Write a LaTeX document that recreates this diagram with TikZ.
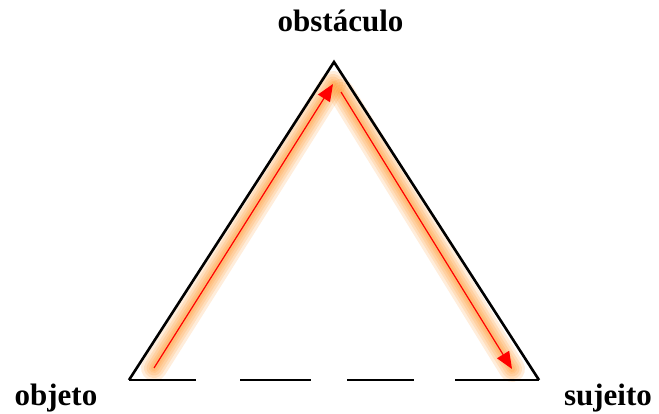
\documentclass[tikz,border=0pt]{standalone}
\usepackage{fontspec}
\setmainfont{Liberation Serif}
\usetikzlibrary{arrows.meta}

\begin{document}
\begin{tikzpicture}[
    x=1pt, y=-1pt,
    side/.style={line width=2.6pt, line join=miter},
    base/.style={line width=2.6pt,
                 dash pattern=on 67pt off 44pt on 71pt off 36pt on 67pt off 41pt on 90pt off 10pt},
    flow/.style={-{Triangle[length=17pt,width=14pt]}, red, line width=1.2pt},
    glow/.style={orange, opacity=0.14, line cap=round},
    corner/.style={font=\fontsize{31}{31}\selectfont\bfseries}
]
\useasboundingbox (0,0) rectangle (659,414);

% --- corners of the triangle ---
\coordinate (apex) at (334,62);
\coordinate (left) at (129,380);
\coordinate (right) at (539,380);

% --- labels ---
\node[corner, anchor=base] (obst) at (340.5,32) {obstáculo};
\node[corner, anchor=base] (obj) at (56,405) {objeto};
\node[corner, anchor=base] (suj) at (608,405) {sujeito};

% --- arrow ends ---
\coordinate (up0) at (154,368);
\coordinate (up1) at (333,84);
\coordinate (down0) at (341,92);
\coordinate (down1) at (512,369);

% glow behind the arrows
\foreach \w in {26,20,15,10,6} {
  \draw[glow, line width=\w pt] (up0) -- (up1);
  \draw[glow, line width=\w pt] (down0) -- (down1);
}

% sides
\draw[side] (left) -- (apex) -- (right);
\draw[base] (left) -- (right);

% arrows
\draw[flow] (up0) -- (up1);
\draw[flow] (down0) -- (down1);

\end{tikzpicture}
\end{document}
